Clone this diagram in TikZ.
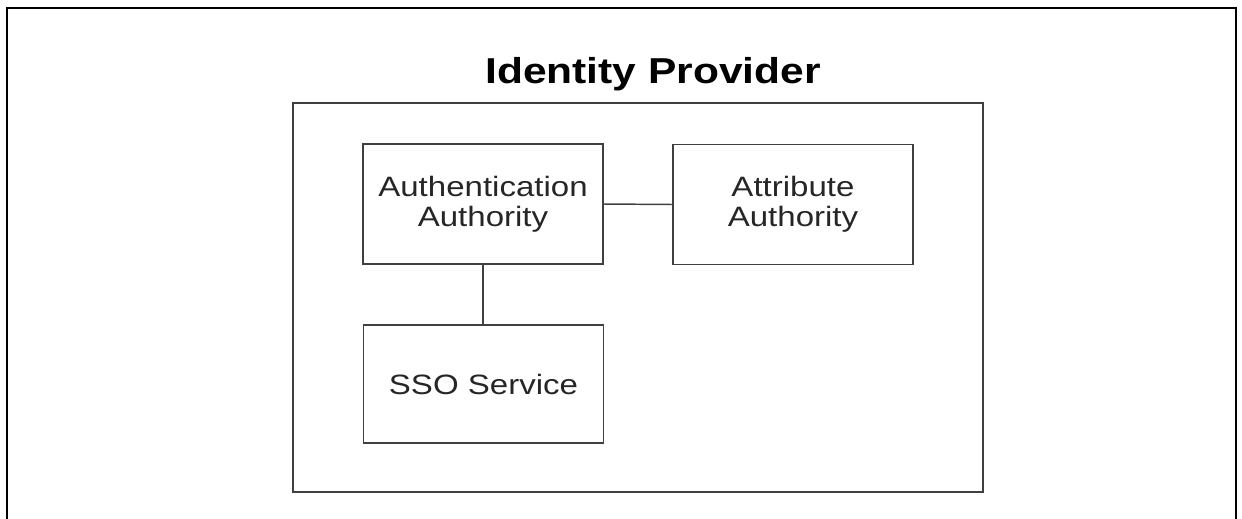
\documentclass[tikz,border=0pt]{standalone}
\usepackage{fontspec}
\setmainfont{Liberation Sans}
\newfontfamily\diagfont[FakeStretch=1.18]{Liberation Sans}
\begin{document}
\begin{tikzpicture}[x=0.75pt,y=-0.75pt,
  frameline/.style={line width=1.5pt,draw=black},
  container/.style={draw=black!75,line width=1.1pt,inner sep=0pt,outer sep=0pt},
  compbox/.style={draw=black!75,line width=1.1pt,inner sep=0pt,outer sep=0pt,
    minimum width=180pt,minimum height=90pt,align=center,text=black!85,
    font=\diagfont\fontsize{21pt}{22.5pt}\selectfont},
  link/.style={draw=black!75,line width=1.1pt},
  titletext/.style={font=\diagfont\bfseries\fontsize{27pt}{30pt}\selectfont,inner sep=0pt,anchor=base}]
\useasboundingbox (0,0) rectangle (1242,518);
\draw[frameline] (7,519) -- (7,8) -- (1236,8) -- (1236,519);
\node[container,minimum width=517.5pt,minimum height=291.75pt] (idp) at (638,297.5) {};
\node[titletext] (title) at (653,83) {Identity Provider};
\node[compbox] (auth) at (483,204) {Authentication\\Authority};
\node[compbox] (attr) at (793,204.5) {Attribute\\Authority};
\node[compbox,minimum height=88.5pt] (sso) at (483.5,384) {SSO Service};
\draw[link] (auth.east) -- (attr.west);
\draw[link] (auth.south) -- (auth.south |- sso.north);
\end{tikzpicture}
\end{document}
